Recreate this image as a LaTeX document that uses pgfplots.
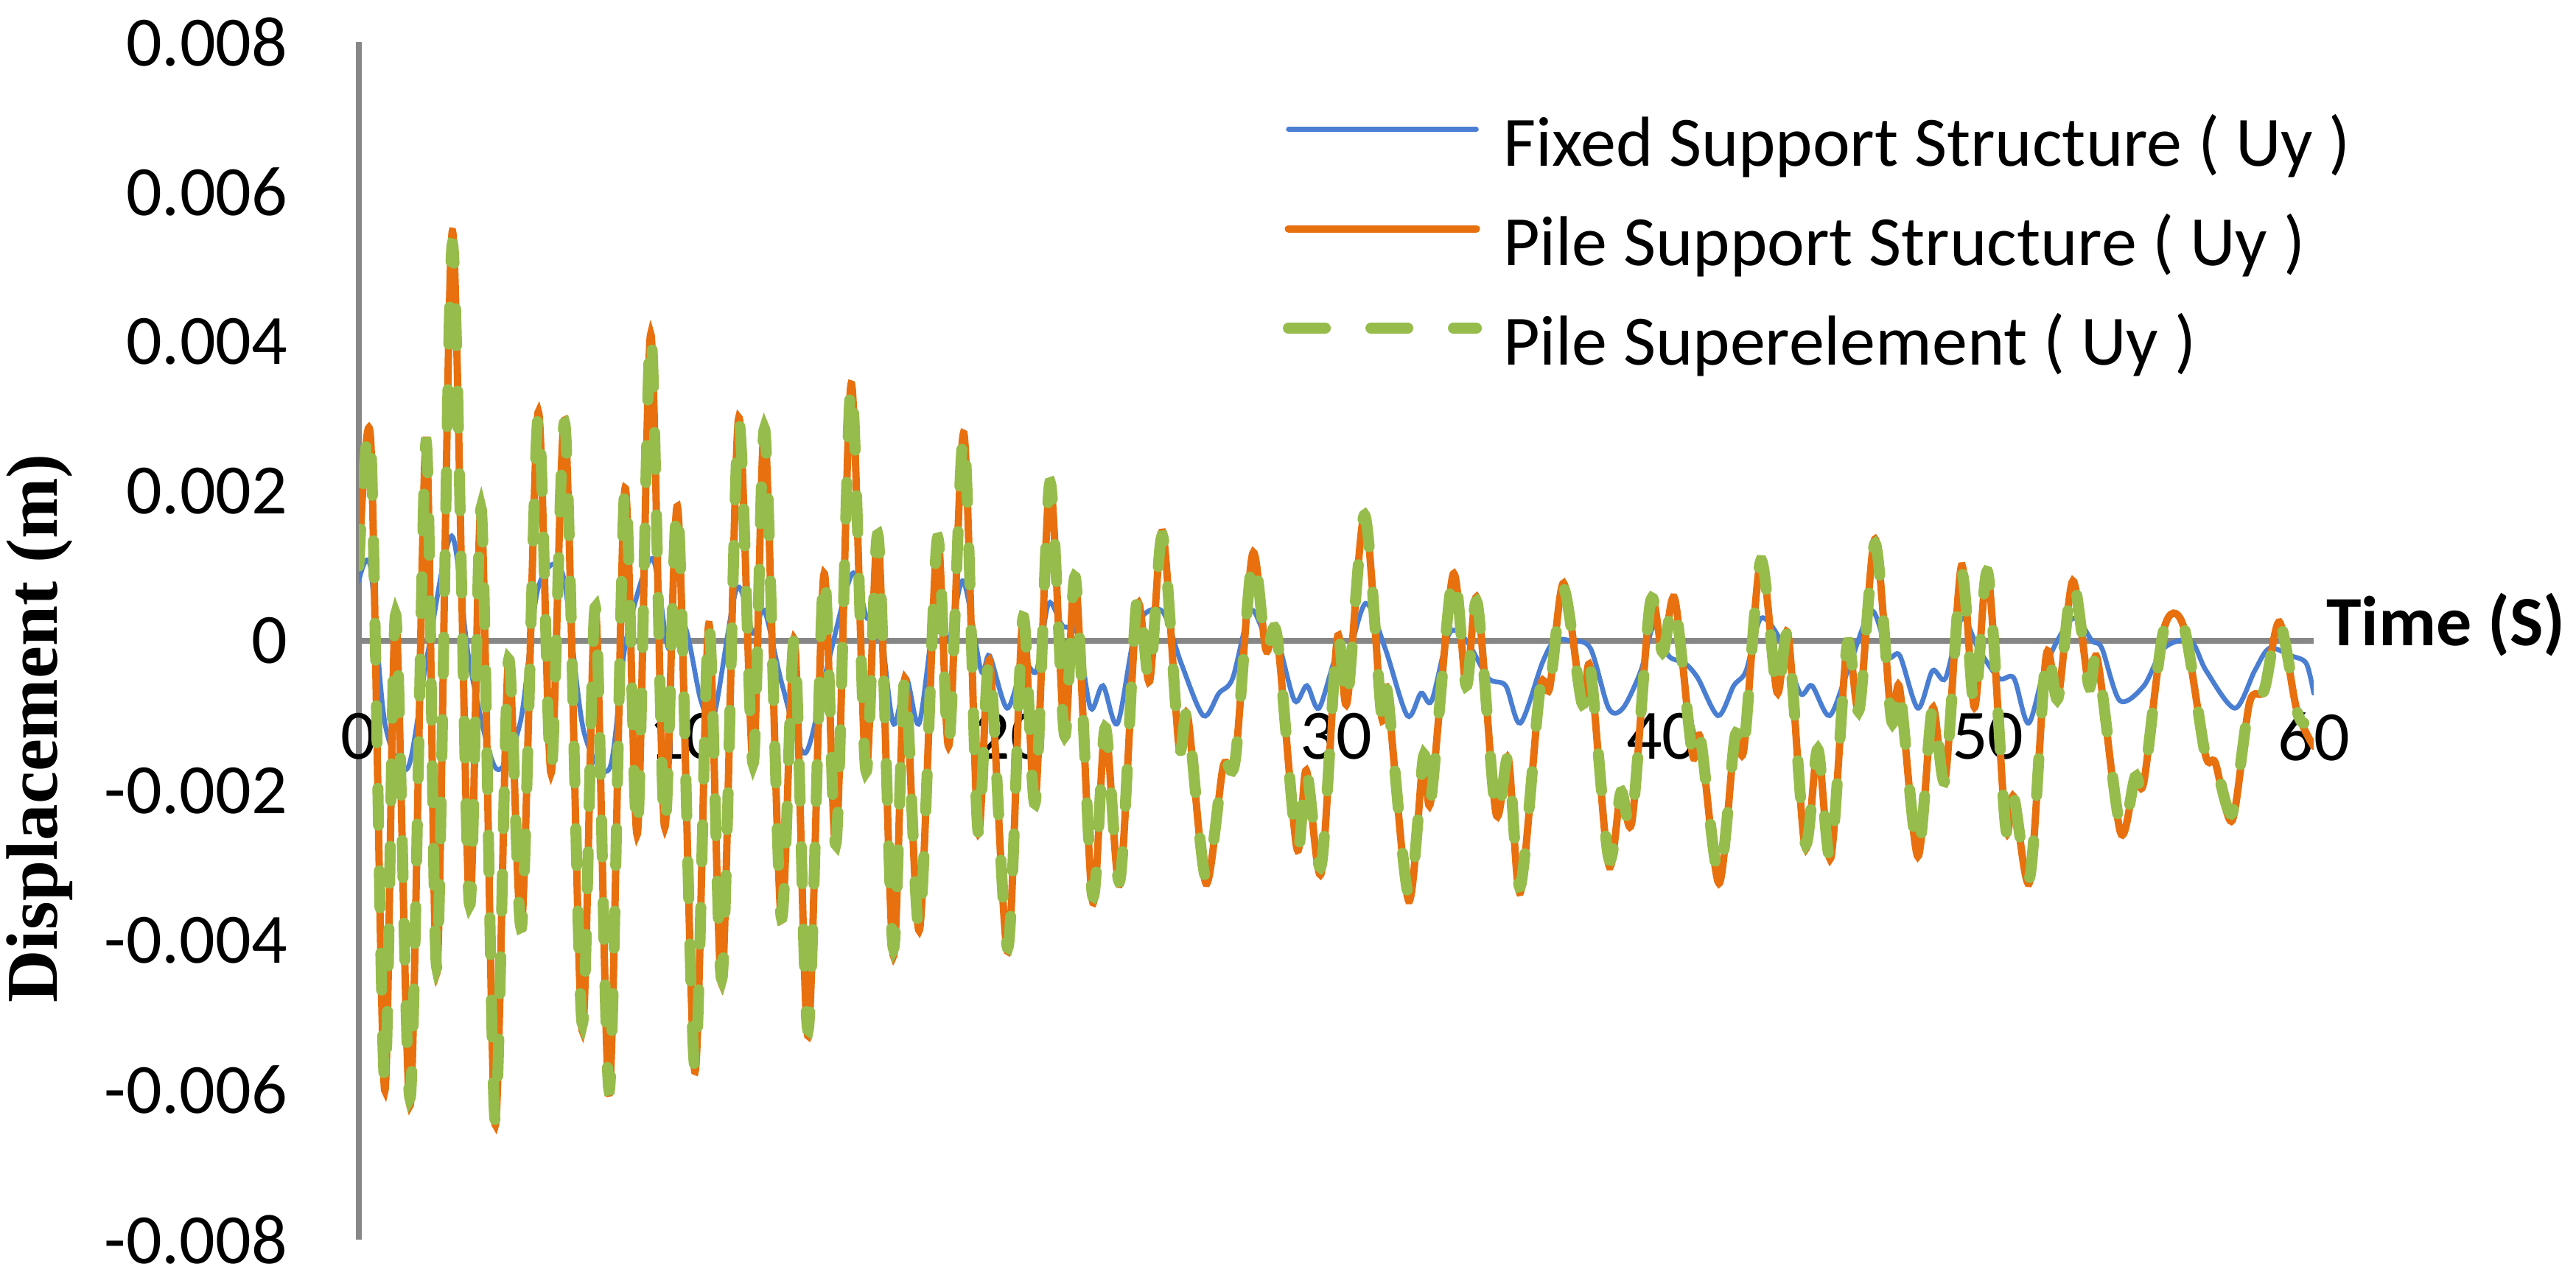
\documentclass[border=0pt]{standalone}
\usepackage{pgfplots}
\usepackage{pgfplotstable}
\pgfplotsset{compat=1.18}
\usepackage{fontspec}
\setmainfont{Carlito}
\newfontfamily\timesfont{Liberation Serif}

\definecolor{fixblue}{HTML}{4A7ED2}
\definecolor{pileorange}{HTML}{E8700E}
\definecolor{supgreen}{HTML}{96BC4B}
\definecolor{axgray}{HTML}{878787}

% Fixed support structure (Uy)
\pgfplotstableread{
t y
0.00 0.0008
0.35 0.0010
0.80 -0.0011
1.50 -0.0017
2.10 -0.0002
2.85 0.0014
3.40 -0.0003
4.20 -0.0017
4.95 -0.0011
5.50 0.0007
6.25 0.0009
6.90 -0.0012
7.70 -0.0017
8.20 0.0000
9.00 0.0011
9.50 -0.0001
10.00 0.0002
10.50 -0.0008
10.90 -0.0010
11.60 0.0007
12.10 0.0001
12.45 0.0004
13.00 -0.0006
13.70 -0.0015
14.40 -0.0003
15.15 0.0009
15.60 0.0003
15.95 0.0004
16.40 -0.0011
16.80 -0.0005
17.20 -0.0011
17.70 0.0004
18.10 0.0000
18.55 0.0008
19.10 -0.0004
19.36 -0.0002
19.90 -0.0009
20.40 -0.0003
20.80 -0.0004
21.17 0.0005
21.60 0.0002
22.05 0.0001
22.46 -0.0009
22.84 -0.0006
23.29 -0.0011
23.88 0.0002
24.65 0.0004
25.24 -0.0003
25.92 -0.0010
26.40 -0.0007
26.82 -0.0005
27.36 0.0004
27.80 0.0001
28.20 0.0000
28.72 -0.0008
29.10 -0.0006
29.47 -0.0009
30.00 -0.0002
30.30 -0.0003
30.90 0.0005
31.50 -0.0001
32.18 -0.0010
32.60 -0.0007
32.93 -0.0008
33.47 0.0001
34.00 0.0000
34.67 -0.0005
35.20 -0.0006
35.65 -0.0011
36.32 -0.0003
36.70 0.0000
37.20 0.0000
37.80 -0.0001
38.36 -0.0009
38.80 -0.0009
39.35 -0.0004
39.75 0.0002
40.20 -0.0002
40.70 -0.0003
41.10 -0.0005
41.72 -0.0010
42.20 -0.0006
42.58 -0.0004
43.03 0.0003
43.64 0.0000
44.24 -0.0007
44.60 -0.0006
45.14 -0.0010
45.70 -0.0004
46.43 0.0004
46.95 -0.0002
47.30 -0.0002
47.85 -0.0009
48.30 -0.0004
48.70 -0.0005
49.20 0.0003
49.70 -0.0001
50.34 -0.0005
50.80 -0.0005
51.25 -0.0011
51.80 -0.0003
52.61 0.0003
53.20 0.0000
53.50 -0.0001
54.05 -0.0008
54.79 -0.0006
55.40 -0.0001
56.22 0.0000
56.70 -0.0004
57.58 -0.0009
58.19 -0.0004
58.64 -0.0001
59.30 -0.0002
59.77 -0.0003
60.00 -0.0007
}\fixed

% Pile support structure (Uy)
\pgfplotstableread{
t y
0.00 0.0010
0.37 0.00263
0.79 -0.0060
1.13 0.00035
1.58 -0.0062
2.06 0.00268
2.40 -0.00443
2.87 0.00547
3.39 -0.00353
3.76 0.00177
4.18 -0.00646
4.59 -0.00027
5.00 -0.0038
5.50 0.00305
5.90 -0.00177
6.33 0.00292
6.85 -0.0052
7.26 0.00045
7.69 -0.00604
8.16 0.00201
8.55 -0.00258
8.96 0.0041
9.38 -0.00248
9.79 0.00177
10.31 -0.00575
10.74 0.00022
11.15 -0.00457
11.65 0.00296
12.10 -0.00164
12.46 0.00282
12.96 -0.00371
13.37 0.00002
13.79 -0.00528
14.27 0.00088
14.65 -0.00273
15.11 0.00343
15.56 -0.00173
15.94 0.0014
16.40 -0.0042
16.76 -0.0005
17.21 -0.00386
17.75 0.00135
18.11 -0.0014
18.57 0.00277
19.00 -0.00253
19.36 -0.00027
19.92 -0.00415
20.38 0.0003
20.76 -0.00216
21.21 0.00211
21.66 -0.00126
22.00 0.00083
22.52 -0.00348
22.91 -0.00116
23.36 -0.00324
23.88 0.00045
24.27 -0.00054
24.67 0.00145
25.17 -0.0014
25.44 -0.0010
26.00 -0.00324
26.53 -0.00168
26.90 -0.00159
27.43 0.00116
27.84 -0.00012
28.18 0.00007
28.79 -0.00277
29.08 -0.00173
29.54 -0.0031
30.03 0.00003
30.33 -0.00083
30.87 0.00168
31.39 -0.0010
31.57 -0.00069
32.22 -0.00347
32.68 -0.00154
32.90 -0.00214
33.58 0.00088
33.99 -0.0006
34.33 0.00056
34.90 -0.0023
35.28 -0.00157
35.65 -0.00336
36.25 -0.00066
36.55 -0.00063
36.98 0.00077
37.54 -0.00083
37.80 -0.00037
38.36 -0.00299
38.74 -0.00202
39.08 -0.0024
39.64 0.00051
40.02 -0.00015
40.39 0.00056
40.93 -0.00151
41.18 -0.00131
41.75 -0.00324
42.24 -0.00128
42.51 -0.00145
43.03 0.00107
43.53 -0.00069
43.87 0.00008
44.39 -0.00276
44.78 -0.00145
45.18 -0.0029
45.68 -0.00006
46.05 -0.00092
46.54 0.00136
47.04 -0.00105
47.29 -0.00063
47.85 -0.00288
48.30 -0.0009
48.69 -0.00185
49.19 0.0010
49.59 -0.00089
50.00 0.00091
50.54 -0.00247
50.79 -0.00208
51.29 -0.00321
51.79 -0.0002
52.15 -0.00077
52.61 0.0008
53.10 -0.0006
53.37 -0.00026
54.07 -0.00256
54.52 -0.00182
54.79 -0.00188
55.40 0.00015
56.00 0.0002
56.67 -0.00151
56.98 -0.00163
57.50 -0.0024
58.03 -0.00083
58.48 -0.00066
58.95 0.00025
59.48 -0.00092
60.00 -0.00141
}\pile

% Pile superelement (Uy)
\pgfplotstableread{
t y
0.00 0.0010
0.37 0.00260
0.79 -0.0059
1.13 0.00035
1.58 -0.0061
2.06 0.00265
2.40 -0.00435
2.87 0.00530
3.39 -0.00350
3.76 0.00175
4.18 -0.00640
4.59 -0.00027
5.00 -0.0038
5.50 0.00300
5.90 -0.00175
6.33 0.00288
6.85 -0.0051
7.26 0.00045
7.69 -0.00600
8.16 0.00201
8.55 -0.00255
8.96 0.0041
9.38 -0.00248
9.79 0.00177
10.31 -0.00570
10.74 0.00022
11.15 -0.00450
11.65 0.00290
12.10 -0.00164
12.46 0.00282
12.96 -0.00368
13.37 0.00002
13.79 -0.00520
14.27 0.00088
14.65 -0.00270
15.11 0.00343
15.56 -0.00173
15.94 0.0014
16.40 -0.0041
16.76 -0.0005
17.21 -0.00383
17.75 0.00135
18.11 -0.0014
18.57 0.00275
19.00 -0.00253
19.36 -0.00027
19.92 -0.00410
20.38 0.0003
20.76 -0.00216
21.21 0.00211
21.66 -0.00126
22.00 0.00083
22.52 -0.00340
22.91 -0.00116
23.36 -0.00320
23.88 0.00054
24.27 -0.00054
24.67 0.00140
25.17 -0.0014
25.44 -0.0010
26.00 -0.00318
26.53 -0.00168
26.90 -0.00159
27.43 0.00110
27.84 -0.00012
28.18 0.00007
28.79 -0.00277
29.08 -0.00173
29.54 -0.0030
30.03 0.00003
30.33 -0.00083
30.87 0.00168
31.39 -0.0010
31.57 -0.00069
32.22 -0.00340
32.68 -0.00154
32.90 -0.00214
33.58 0.00088
33.99 -0.0006
34.33 0.00050
34.90 -0.0023
35.28 -0.00157
35.65 -0.00328
36.25 -0.00066
36.55 -0.00063
36.98 0.00070
37.54 -0.00083
37.80 -0.00037
38.36 -0.00290
38.74 -0.00202
39.08 -0.0024
39.64 0.00051
40.02 -0.00015
40.39 0.00050
40.93 -0.00151
41.18 -0.00131
41.75 -0.00316
42.24 -0.00128
42.51 -0.00145
43.03 0.00107
43.53 -0.00069
43.87 0.00005
44.39 -0.00270
44.78 -0.00145
45.18 -0.0029
45.68 -0.00006
46.05 -0.00092
46.54 0.00130
47.04 -0.00105
47.29 -0.00063
47.85 -0.00282
48.30 -0.0009
48.69 -0.00185
49.19 0.0009
49.59 -0.00089
50.00 0.00091
50.54 -0.00247
50.79 -0.00208
51.29 -0.00315
51.79 -0.0002
52.15 -0.00077
52.61 0.0008
53.10 -0.0006
53.37 -0.00026
54.07 -0.00250
54.52 -0.00182
54.79 -0.00188
55.40 0.00015
56.00 0.00022
56.67 -0.00151
56.98 -0.00163
57.50 -0.0023
58.03 -0.00083
58.48 -0.00066
58.95 0.00025
59.48 -0.00092
59.70 -0.00110
}\super

\begin{document}
\begin{tikzpicture}
\begin{axis}[
  scale only axis,
  width=265.3pt, height=162.6pt,
  xmin=0, xmax=60, ymin=-0.008, ymax=0.008,
  axis x line=middle, axis y line=left,
  axis line style={draw=axgray, line width=0.8pt, -},
  every inner x axis line/.append style={-},
  every outer y axis line/.append style={-},
  xtick={0,10,20,30,40,50,60},
  xticklabels={0,10,20,30,40,50,60},
  ytick={-0.008,-0.006,-0.004,-0.002,0,0.002,0.004,0.006,0.008},
  yticklabels={-0.008,-0.006,-0.004,-0.002,0,0.002,0.004,0.006,0.008},
  scaled y ticks=false,
  major tick length=0pt,
  hide obscured x ticks=false, hide obscured y ticks=false,
  tick label style={font=\fontsize{9.6}{11}\selectfont},
  xticklabel style={anchor=center, inner sep=0pt, yshift=-13pt},
  yticklabel style={anchor=east, inner sep=0pt, xshift=-9.5pt},
  legend cell align=left,
  legend style={draw=none, fill=none, inner sep=0pt, outer sep=0pt,
    at={(0.4727,0.9397)}, anchor=north west,
    row sep=4pt, column sep=2.9pt,
    font=\fontsize{9.6}{11}\selectfont,
    nodes={inner sep=0pt, text height=7pt, text depth=2.5pt}},
  legend image code/.code={\draw[#1, line cap=round] (0pt,2.7pt) -- (25.5pt,2.7pt);},
]
\addplot[fixblue, line width=0.65pt, smooth, line cap=round] table {\fixed};
\addlegendentry{Fixed Support Structure ( Uy )}
\addplot[pileorange, line width=1pt, smooth, line cap=round] table {\pile};
\addlegendentry{Pile Support Structure ( Uy )}
\addplot[supgreen, line width=1.5pt, smooth, line cap=round, dash pattern=on 5pt off 6.2pt] table {\super};
\addlegendentry{Pile Superelement ( Uy )}
\end{axis}
% axis titles
\node[anchor=base west, inner sep=0pt, font=\bfseries\fontsize{9.6}{11}\selectfont]
  at (266.8pt,80.6pt) {Time (S)};
\node[rotate=90, anchor=base, inner sep=0pt, font=\timesfont\bfseries\fontsize{9.9}{12}\selectfont]
  at (-40.9pt,69.4pt) {Displacement (m)};
\pgfresetboundingbox
\useasboundingbox (-48.7pt,-4.8pt) rectangle (300.9pt,168.3pt);
\end{tikzpicture}
\end{document}
